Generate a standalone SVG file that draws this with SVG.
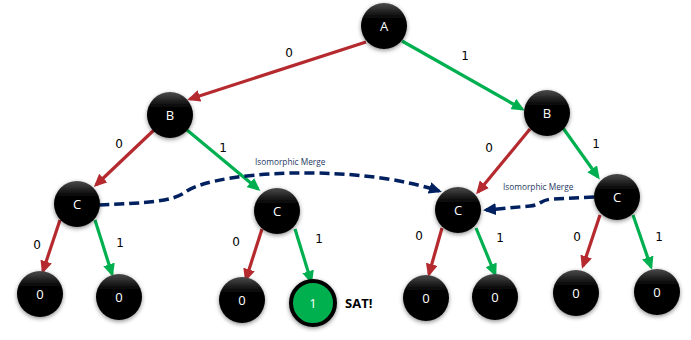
<svg xmlns="http://www.w3.org/2000/svg" width="691" height="340" viewBox="0 0 691 340">
<style>
.n{fill:url(#g);filter:url(#sh)}
.nt{font-family:"Open Sans","Liberation Sans",sans-serif;font-size:13px;fill:#fff;text-anchor:middle}
.el{font-family:"DejaVu Sans",sans-serif;font-size:12px;fill:#000;text-anchor:middle}
.r{stroke:#b52a2f;stroke-width:3.2;fill:none;marker-end:url(#ar)}
.gr{stroke:#00b050;stroke-width:3.2;fill:none;marker-end:url(#ag)}
.d{stroke:#002060;stroke-width:3.5;fill:none;stroke-dasharray:10 5;marker-end:url(#ad)}
.iso{font-family:"Open Sans","Liberation Sans",sans-serif;font-size:8.3px;fill:#1f3864}
</style>
<defs>
<linearGradient id="g" x1="0" y1="0" x2="0" y2="1">
<stop offset="0" stop-color="#4a4a4a"/>
<stop offset="0.35" stop-color="#000"/>
<stop offset="1" stop-color="#000"/>
</linearGradient>
<filter id="sh" x="-30%" y="-30%" width="160%" height="160%">
<feDropShadow dx="0" dy="1.5" stdDeviation="2" flood-color="#000" flood-opacity="0.45"/>
</filter>
<marker id="ar" markerWidth="13" markerHeight="12" refX="10" refY="6" orient="auto" markerUnits="userSpaceOnUse"><path d="M0,0 L13,6 L0,12 z" fill="#b52a2f"/></marker>
<marker id="ag" markerWidth="13" markerHeight="12" refX="10" refY="6" orient="auto" markerUnits="userSpaceOnUse"><path d="M0,0 L13,6 L0,12 z" fill="#00b050"/></marker>
<marker id="ad" markerWidth="13" markerHeight="12" refX="10" refY="6" orient="auto" markerUnits="userSpaceOnUse"><path d="M0,0 L13,6 L0,12 z" fill="#002060"/></marker>
</defs>
<g id="connectors">
<line class="r" x1="366" y1="42" x2="190" y2="99"/>
<line class="gr" x1="402" y1="41" x2="522" y2="109"/>
<line class="r" x1="154" y1="130" x2="96" y2="185"/>
<line class="gr" x1="187" y1="130" x2="258" y2="189"/>
<line class="r" x1="530" y1="129" x2="478" y2="192"/>
<line class="gr" x1="563" y1="128" x2="598" y2="177"/>
<line class="r" x1="60" y1="220" x2="43" y2="271"/>
<line class="gr" x1="95" y1="220" x2="112" y2="274"/>
<line class="r" x1="262" y1="229" x2="246" y2="279"/>
<line class="gr" x1="295" y1="229" x2="311" y2="281"/>
<line class="r" x1="442" y1="228" x2="429" y2="274"/>
<line class="gr" x1="476" y1="228" x2="495" y2="274"/>
<line class="r" x1="600" y1="215" x2="583" y2="266"/>
<line class="gr" x1="633" y1="215" x2="651" y2="267"/>
<path class="d" d="M99,205 C150,203 172,201 184,193 C200,180 255,172 315,173 C365,174 405,180 439,191"/>
<path class="d" d="M594,197 L552,199 C540,200 541,205 530,206 L486,210"/>
<text class="el" x="289" y="57">0</text>
<text class="el" x="465" y="60">1</text>
<text class="el" x="119" y="148">0</text>
<text class="el" x="223" y="152">1</text>
<text class="el" x="489" y="152">0</text>
<text class="el" x="596" y="148">1</text>
<text class="el" x="37" y="249">0</text>
<text class="el" x="120" y="247">1</text>
<text class="el" x="236" y="246">0</text>
<text class="el" x="319" y="243">1</text>
<text class="el" x="419" y="240">0</text>
<text class="el" x="500" y="242">1</text>
<text class="el" x="577" y="241">0</text>
<text class="el" x="659" y="241">1</text>
<text class="iso" x="255" y="165">Isomorphic Merge</text>
<text class="iso" x="503" y="190">Isomorphic Merge</text>
</g>
<g id="nA"><circle class="n" cx="384" cy="26" r="23"/><text class="nt" x="384" y="31">A</text></g>
<g id="nB1"><circle class="n" cx="170" cy="115" r="23"/><text class="nt" x="170" y="120">B</text></g>
<g id="nB2"><circle class="n" cx="547" cy="113" r="23"/><text class="nt" x="547" y="118">B</text></g>
<g id="nC1"><circle class="n" cx="77" cy="204" r="23"/><text class="nt" x="77" y="209">C</text></g>
<g id="nC2"><circle class="n" cx="277" cy="211" r="23"/><text class="nt" x="277" y="216">C</text></g>
<g id="nC3"><circle class="n" cx="458" cy="210" r="23"/><text class="nt" x="458" y="215">C</text></g>
<g id="nC4"><circle class="n" cx="617" cy="197" r="23"/><text class="nt" x="617" y="202">C</text></g>
<g id="nL1"><circle class="n" cx="40" cy="294" r="23"/><text class="nt" x="40" y="299">0</text></g>
<g id="nL2"><circle class="n" cx="119" cy="297" r="23"/><text class="nt" x="119" y="302">0</text></g>
<g id="nL3"><circle class="n" cx="242" cy="300" r="23"/><text class="nt" x="242" y="305">0</text></g>
<g id="nSAT"><circle cx="313" cy="303" r="22" fill="#00b050" stroke="#000" stroke-width="4" filter="url(#sh)"/><text class="nt" x="313" y="308">1</text><text x="345" y="308" font-family="'Open Sans','Liberation Sans',sans-serif" font-size="13" font-weight="bold" fill="#000">SAT!</text></g>
<g id="nL5"><circle class="n" cx="426" cy="298" r="23"/><text class="nt" x="426" y="303">0</text></g>
<g id="nL6"><circle class="n" cx="495" cy="297" r="23"/><text class="nt" x="495" y="302">0</text></g>
<g id="nL7"><circle class="n" cx="576" cy="293" r="23"/><text class="nt" x="576" y="298">0</text></g>
<g id="nL8"><circle class="n" cx="657" cy="292" r="23"/><text class="nt" x="657" y="297">0</text></g>
</svg>
